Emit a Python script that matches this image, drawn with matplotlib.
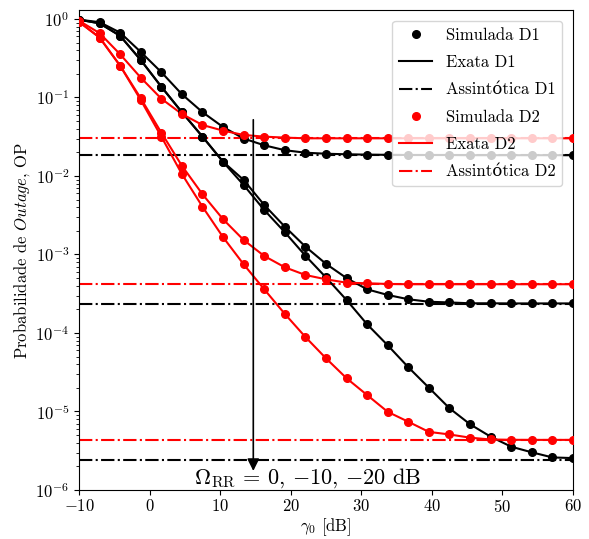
import numpy as np
import matplotlib
matplotlib.use("Agg")
import matplotlib.pyplot as plt

plt.rcParams["font.family"] = ["cmr10", "DejaVu Serif"]
plt.rcParams["mathtext.fontset"] = "cm"
plt.rcParams["axes.formatter.use_mathtext"] = True
plt.rcParams["font.size"] = 12

# SNR grid [dB]
gamma_db = [-10.0, -7.08, -4.17, -1.25, 1.67, 4.58, 7.5, 10.42, 13.33, 16.25,
            19.17, 22.08, 25.0, 27.92, 30.83, 33.75, 36.67, 39.58, 42.5, 45.42,
            48.33, 51.25, 54.17, 57.08, 60.0]

# D1 (black), Omega_RR = 0, -10, -20 dB
d1_om0 = [0.98, 0.91, 0.67, 0.38, 0.21, 0.11, 0.065, 0.042, 0.030, 0.0246,
          0.0213, 0.0198, 0.0192, 0.0189, 0.0187, 0.0186, 0.0185, 0.0185,
          0.0185, 0.0184, 0.0184, 0.0184, 0.0184, 0.0184, 0.0184]
d1_om10 = [0.98, 0.88, 0.61, 0.30, 0.137, 0.065, 0.0317, 0.0152, 0.0089,
           0.00427, 0.00226, 0.00126, 7.6e-4, 5.0e-4, 3.6e-4, 3.05e-4,
           2.69e-4, 2.50e-4, 2.45e-4, 2.39e-4, 2.39e-4, 2.38e-4, 2.38e-4,
           2.38e-4, 2.38e-4]
d1_om20 = [0.98, 0.88, 0.61, 0.30, 0.137, 0.065, 0.0317, 0.0151, 0.00768,
           0.00369, 0.00192, 9.65e-4, 5.1e-4, 2.63e-4, 1.29e-4, 6.97e-5,
           3.66e-5, 2.01e-5, 1.10e-5, 6.87e-6, 4.78e-6, 3.56e-6, 3.02e-6,
           2.6e-6, 2.55e-6]

# D2 (red), Omega_RR = 0, -10, -20 dB
d2_om0 = [0.95, 0.66, 0.355, 0.179, 0.0965, 0.0616, 0.0446, 0.0378, 0.0333,
          0.0317, 0.0308, 0.0302, 0.0302, 0.0302, 0.0302, 0.0302, 0.0302,
          0.0302, 0.0302, 0.0302, 0.0302, 0.0302, 0.0302, 0.0302, 0.0302]
d2_om10 = [0.92, 0.58, 0.254, 0.0977, 0.0356, 0.0135, 0.00585, 0.00281,
           0.00153, 9.57e-4, 6.87e-4, 5.48e-4, 4.83e-4, 4.37e-4, 4.30e-4,
           4.21e-4, 4.18e-4, 4.18e-4, 4.18e-4, 4.18e-4, 4.18e-4, 4.18e-4,
           4.18e-4, 4.18e-4, 4.18e-4]
d2_om20 = [0.92, 0.58, 0.254, 0.0929, 0.0317, 0.0106, 0.00406, 0.00166,
           7.5e-4, 3.6e-4, 1.75e-4, 8.9e-5, 4.76e-5, 2.65e-5, 1.62e-5,
           9.9e-6, 7.4e-6, 5.5e-6, 5.1e-6, 4.64e-6, 4.4e-6, 4.36e-6, 4.35e-6,
           4.35e-6, 4.35e-6]

# asymptotic floors
d1_floor = [1.84e-2, 2.36e-4, 2.41e-6]
d2_floor = [3.02e-2, 4.17e-4, 4.34e-6]

fig = plt.figure(figsize=(5.89, 5.39), dpi=100)
ax = fig.add_axes([0.1341, 0.0909, 0.8387, 0.8905])

lw = 1.5
ms = 5.5
for i, d in enumerate([d1_om0, d1_om10, d1_om20]):
    ax.plot(gamma_db, d, "o", color="black", ms=ms, zorder=3,
            label="Simulada D1" if i == 0 else None)
    ax.plot(gamma_db, d, "-", color="black", lw=lw, zorder=2,
            label="Exata D1" if i == 0 else None)
for i, f in enumerate(d1_floor):
    ax.axhline(f, color="black", ls="-.", lw=lw, zorder=1,
               label="Assintótica D1" if i == 0 else None)

for i, d in enumerate([d2_om0, d2_om10, d2_om20]):
    ax.plot(gamma_db, d, "o", color="red", ms=ms, zorder=3,
            label="Simulada D2" if i == 0 else None)
    ax.plot(gamma_db, d, "-", color="red", lw=lw, zorder=2,
            label="Exata D2" if i == 0 else None)
for i, f in enumerate(d2_floor):
    ax.axhline(f, color="red", ls="-.", lw=lw, zorder=1,
               label="Assintótica D2" if i == 0 else None)

# reorder legend entries
handles, labels = ax.get_legend_handles_labels()
order = ["Simulada D1", "Exata D1", "Assintótica D1",
         "Simulada D2", "Exata D2", "Assintótica D2"]
hmap = dict(zip(labels, handles))
ax.legend([hmap[k] for k in order], order, loc="upper right", fontsize=12,
          numpoints=1, labelspacing=0.72, borderaxespad=0.65)

ax.annotate("", xy=(14.7, 1.75e-6), xytext=(14.7, 0.052),
            arrowprops=dict(arrowstyle="-|>", color="black", lw=1.2,
                            mutation_scale=18, shrinkA=0, shrinkB=0))
ax.text(22.3, 1.42e-6, r"$\Omega_{\mathrm{RR}}$ = 0, $-$10, $-$20 dB",
        ha="center", va="center", fontsize=16)

ax.set_yscale("log")
ax.set_xlim(-10, 60)
ax.set_ylim(1e-6, 1.3)
ax.tick_params(axis="x", pad=2.5)
ax.set_xlabel(r"$\gamma_0$ [dB]", labelpad=0.5)
ax.set_ylabel(r"Probabilidade de $\mathit{Outage}$, OP", labelpad=2)

fig.savefig("out.png", dpi=100)
